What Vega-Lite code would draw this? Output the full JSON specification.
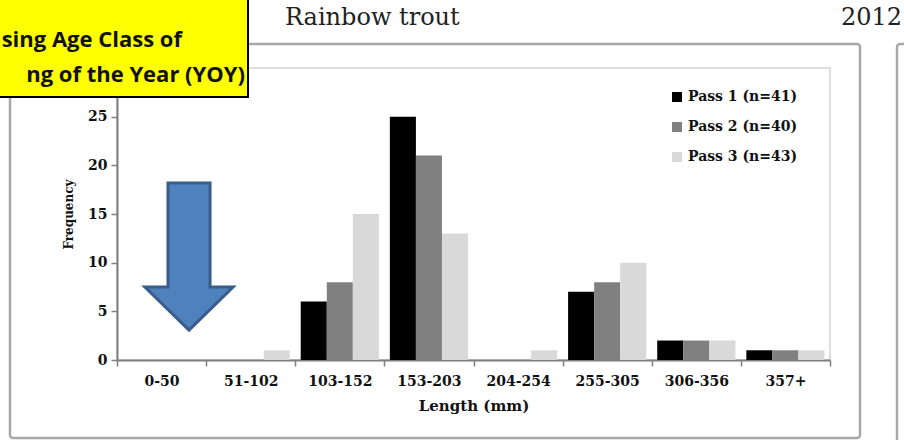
{
  "$schema": "https://vega.github.io/schema/vega-lite/v6.json",
  "autosize": {"type": "none"},
  "padding": {"left": 117, "top": 68, "right": 74, "bottom": 80},
  "width": 713,
  "height": 292,
  "background": "white",
  "config": {
    "view": {"stroke": "#d4d4d4", "strokeWidth": 1.5},
    "font": "DejaVu Serif"
  },
  "resolve": {"scale": {"x": "independent", "y": "independent", "color": "independent"}, "axis": {"x": "independent", "y": "independent"}},
  "layer": [
    {
      "data": {"values": [
        {"part": "frame", "x0": -1.2006, "x1": 8.337, "y0": 32.47, "y1": -8.01},
        {"part": "next", "x0": 8.752, "x1": 9.8, "y0": 32.47, "y1": -9.5}
      ]},
      "mark": {"type": "rect", "fill": "transparent", "stroke": "#a8a8a8", "strokeWidth": 2.5, "cornerRadius": 3},
      "encoding": {
        "x": {"field": "x0", "type": "quantitative", "scale": {"domain": [0, 8], "nice": false, "zero": false}, "axis": null},
        "x2": {"field": "x1"},
        "y": {"field": "y0", "type": "quantitative", "scale": {"domain": [0, 30], "nice": false, "zero": false}, "axis": null},
        "y2": {"field": "y1"}
      }
    },
    {
      "data": {"values": [
        {"length": "0-50", "pass": "Pass 1 (n=41)", "freq": 0},
        {"length": "0-50", "pass": "Pass 2 (n=40)", "freq": 0},
        {"length": "0-50", "pass": "Pass 3 (n=43)", "freq": 0},
        {"length": "51-102", "pass": "Pass 1 (n=41)", "freq": 0},
        {"length": "51-102", "pass": "Pass 2 (n=40)", "freq": 0},
        {"length": "51-102", "pass": "Pass 3 (n=43)", "freq": 1},
        {"length": "103-152", "pass": "Pass 1 (n=41)", "freq": 6},
        {"length": "103-152", "pass": "Pass 2 (n=40)", "freq": 8},
        {"length": "103-152", "pass": "Pass 3 (n=43)", "freq": 15},
        {"length": "153-203", "pass": "Pass 1 (n=41)", "freq": 25},
        {"length": "153-203", "pass": "Pass 2 (n=40)", "freq": 21},
        {"length": "153-203", "pass": "Pass 3 (n=43)", "freq": 13},
        {"length": "204-254", "pass": "Pass 1 (n=41)", "freq": 0},
        {"length": "204-254", "pass": "Pass 2 (n=40)", "freq": 0},
        {"length": "204-254", "pass": "Pass 3 (n=43)", "freq": 1},
        {"length": "255-305", "pass": "Pass 1 (n=41)", "freq": 7},
        {"length": "255-305", "pass": "Pass 2 (n=40)", "freq": 8},
        {"length": "255-305", "pass": "Pass 3 (n=43)", "freq": 10},
        {"length": "306-356", "pass": "Pass 1 (n=41)", "freq": 2},
        {"length": "306-356", "pass": "Pass 2 (n=40)", "freq": 2},
        {"length": "306-356", "pass": "Pass 3 (n=43)", "freq": 2},
        {"length": "357+", "pass": "Pass 1 (n=41)", "freq": 1},
        {"length": "357+", "pass": "Pass 2 (n=40)", "freq": 1},
        {"length": "357+", "pass": "Pass 3 (n=43)", "freq": 1}
      ]},
      "mark": {"type": "bar"},
      "encoding": {
        "x": {
          "field": "length", "type": "nominal", "sort": null,
          "scale": {"paddingInner": 0, "paddingOuter": 0},
          "axis": {
            "title": "Length (mm)", "labelAngle": 0, "tickBand": "extent",
            "domainColor": "#7f7f7f", "domainWidth": 2, "tickColor": "#7f7f7f", "tickWidth": 1.5, "tickSize": 6,
            "labelFont": "DejaVu Serif", "labelFontSize": 14, "labelFontWeight": "bold", "labelColor": "#111111", "labelPadding": 8,
            "titleFont": "DejaVu Serif", "titleFontSize": 15, "titleFontWeight": "bold", "titleColor": "#111111", "titlePadding": 10
          }
        },
        "xOffset": {"field": "pass", "type": "nominal", "scale": {"paddingOuter": 0.21, "paddingInner": 0}},
        "y": {
          "field": "freq", "type": "quantitative",
          "scale": {"domain": [0, 30], "nice": false},
          "axis": {
            "title": "Frequency", "values": [0, 5, 10, 15, 20, 25], "grid": false,
            "domainColor": "#7f7f7f", "domainWidth": 2, "tickColor": "#7f7f7f", "tickWidth": 1.5, "tickSize": 6,
            "labelFont": "DejaVu Serif", "labelFontSize": 14, "labelFontWeight": "bold", "labelColor": "#111111", "labelPadding": 4,
            "titleFont": "DejaVu Serif", "titleFontSize": 12, "titleFontWeight": "bold", "titleColor": "#111111", "titlePadding": 12
          }
        },
        "color": {
          "field": "pass", "type": "nominal",
          "scale": {"range": ["#000000", "#808080", "#d9d9d9"]},
          "legend": {
            "title": null, "orient": "none", "legendX": 553, "legendY": 22, "padding": 0,
            "symbolType": "square", "symbolSize": 100, "symbolStrokeWidth": 0,
            "labelFont": "DejaVu Serif", "labelFontSize": 14, "labelFontWeight": "bold", "labelColor": "#111111",
            "labelOffset": 4, "rowPadding": 16
          }
        }
      }
    },
    {
      "data": {"values": [{"box": "note", "x0": -1.5, "x1": 1.47, "y0": 37.5, "y1": 27.02}]},
      "mark": {"type": "rect", "fill": "#ffff00", "stroke": "#000000", "strokeWidth": 2},
      "encoding": {
        "x": {"field": "x0", "type": "quantitative", "scale": {"domain": [0, 8], "nice": false, "zero": false}, "axis": null},
        "x2": {"field": "x1"},
        "y": {"field": "y0", "type": "quantitative", "scale": {"domain": [0, 30], "nice": false, "zero": false}, "axis": null},
        "y2": {"field": "y1"}
      }
    },
    {
      "data": {"values": [
        {"label": "sing Age Class of", "px": 0.729, "py": 32.88},
        {"label": "ng of the Year (YOY)", "px": 1.436, "py": 29.28}
      ]},
      "mark": {"type": "text", "align": "right", "baseline": "middle", "font": "Open Sans", "fontWeight": "bold", "fontSize": 22, "color": "#111111"},
      "encoding": {
        "x": {"field": "px", "type": "quantitative", "scale": {"domain": [0, 8], "nice": false, "zero": false}, "axis": null},
        "y": {"field": "py", "type": "quantitative", "scale": {"domain": [0, 30], "nice": false, "zero": false}, "axis": null},
        "text": {"field": "label"}
      }
    },
    {
      "data": {"values": [
        {"label": "Rainbow trout", "px": 1.885, "py": 35.14}
      ]},
      "mark": {"type": "text", "align": "left", "baseline": "middle", "font": "DejaVu Serif", "fontSize": 24, "color": "#222222"},
      "encoding": {
        "x": {"field": "px", "type": "quantitative", "scale": {"domain": [0, 8], "nice": false, "zero": false}, "axis": null},
        "y": {"field": "py", "type": "quantitative", "scale": {"domain": [0, 30], "nice": false, "zero": false}, "axis": null},
        "text": {"field": "label"}
      }
    },
    {
      "data": {"values": [
        {"label": "2012", "px": 8.808, "py": 35.14}
      ]},
      "mark": {"type": "text", "align": "right", "baseline": "middle", "font": "DejaVu Serif", "fontSize": 24, "color": "#222222"},
      "encoding": {
        "x": {"field": "px", "type": "quantitative", "scale": {"domain": [0, 8], "nice": false, "zero": false}, "axis": null},
        "y": {"field": "py", "type": "quantitative", "scale": {"domain": [0, 30], "nice": false, "zero": false}, "axis": null},
        "text": {"field": "label"}
      }
    },
    {
      "data": {"values": [{"shape": "arrow", "px": 0.808, "py": 10.63}]},
      "mark": {
        "type": "point", "filled": true, "fill": "#4f81bd", "stroke": "#385d8a", "strokeWidth": 3, "opacity": 1, "fillOpacity": 1,
        "shape": "M-0.286,-1L0.286,-1L0.286,0.415L0.6,0.415L0,1L-0.6,0.415L-0.286,0.415Z",
        "size": 21609
      },
      "encoding": {
        "x": {"field": "px", "type": "quantitative", "scale": {"domain": [0, 8], "nice": false, "zero": false}, "axis": null},
        "y": {"field": "py", "type": "quantitative", "scale": {"domain": [0, 30], "nice": false, "zero": false}, "axis": null}
      }
    }
  ]
}
